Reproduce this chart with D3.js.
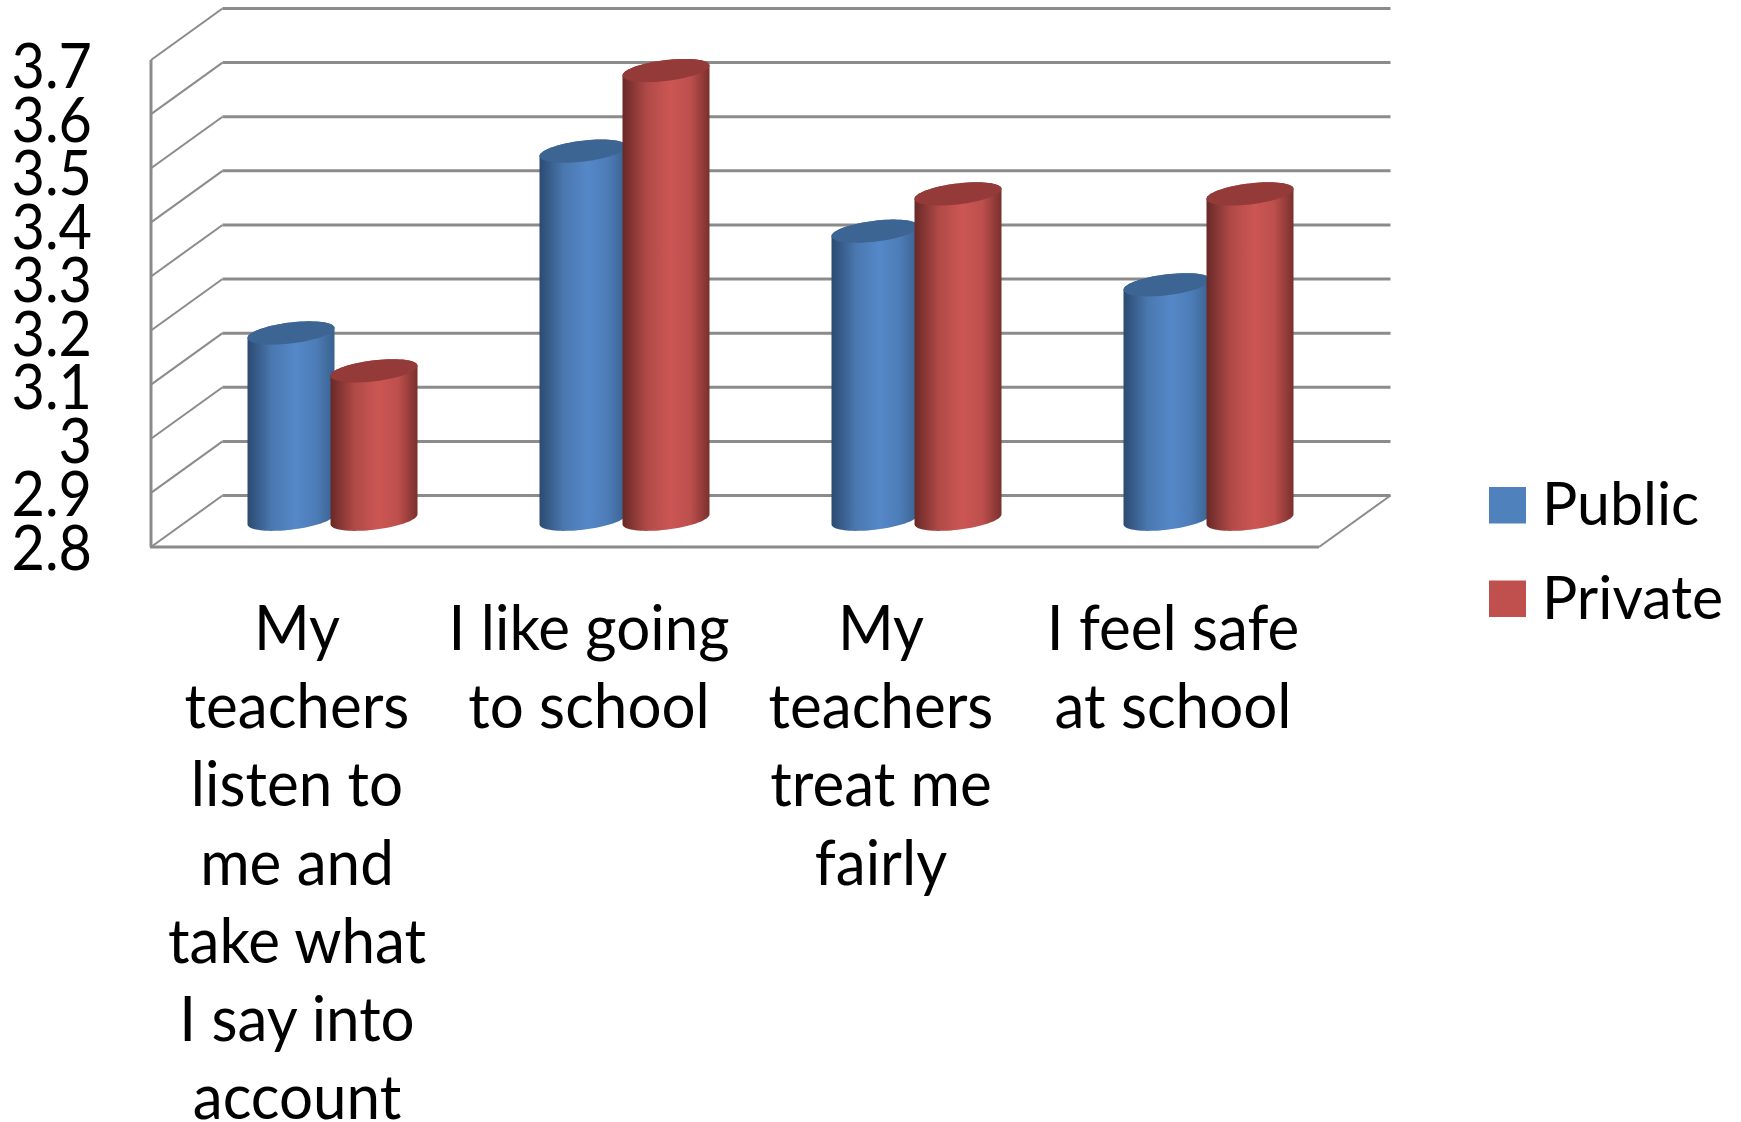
<!DOCTYPE html>
<html><head><meta charset="utf-8">
<script src="https://cdn.jsdelivr.net/npm/d3@7"></script>
<style>html,body{margin:0;background:#fff}svg{display:block}text{font-family:Lato,sans-serif;fill:#000}</style>
</head><body><svg id="c" width="1741" height="1122"></svg>
<script>
const categoryLines=[
 ["My","teachers","listen to","me and","take what","I say into","account"],
 ["I like going","to school"],
 ["My","teachers","treat me","fairly"],
 ["I feel safe","at school"]];
const seriesNames=["Public","Private"];
const publicValues=[3.148,3.484,3.336,3.237];
const privateValues=[3.078,3.633,3.405,3.405];
const ticks=[2.8,2.9,3,3.1,3.2,3.3,3.4,3.5,3.6,3.7];
const fills=[
 {base:"#4f81bd",top:"#3d6594",stops:["#2b4a70","#4a78b0","#5588c8","#4d7db8","#3a618f"]},
 {base:"#c0504d",top:"#943a38",stops:["#682927","#b04a47","#cc5654","#bd4f4c","#7a302e"]}];

const svg=d3.select("#c");
const L=151,R=1319,DX=71.5,DY=-51.5,B=547,T=60;
const x=d3.scaleBand().domain(d3.range(categoryLines.length)).range([L,R]);
const yF=d3.scaleLinear().domain([2.8,3.7]).range([B,T]);
const yB=v=>yF(v)+DY, yM=v=>yF(v)+DY/2;
const grey="#8b8b8b";

const defs=svg.append("defs");
fills.forEach((f,i)=>{
 const g=defs.append("linearGradient").attr("id","g"+i);
 [0,.28,.55,.78,1].forEach((o,j)=>g.append("stop").attr("offset",o).attr("stop-color",f.stops[j]));
});

// walls
const ext=[...ticks];
const grid=svg.append("g");
grid.selectAll("line.b").data(ext).join("line").attr("class","b")
 .attr("x1",L+DX).attr("x2",R+DX).attr("y1",d=>yB(d)).attr("y2",d=>yB(d))
 .attr("stroke",grey).attr("stroke-width",3);
grid.selectAll("line.s").data(ext).join("line").attr("class","s")
 .attr("x1",L).attr("x2",L+DX).attr("y1",d=>yF(d)).attr("y2",d=>yB(d))
 .attr("stroke",grey).attr("stroke-width",2);
grid.append("line").attr("x1",L).attr("x2",L).attr("y1",T).attr("y2",B).attr("stroke",grey).attr("stroke-width",3);
grid.append("line").attr("x1",L-1).attr("x2",R).attr("y1",B).attr("y2",B).attr("stroke",grey).attr("stroke-width",3);
grid.append("line").attr("x1",R).attr("x2",R+DX).attr("y1",B).attr("y2",B+DY).attr("stroke",grey).attr("stroke-width",2);

// cylinders
const rx=43.5, ry=10.5, k=0.115, depthShift=35.5;
const ell=(cx,cy,a)=>[cx+rx*Math.cos(a),cy+ry*Math.sin(a)-k*rx*Math.cos(a)];
const line=d3.line();
function body(cx,yTop,yBot){
 const pts=[];
 const n=40;
 d3.range(n+1).forEach(i=>{const a=Math.PI*i/n;pts.push(ell(cx,yBot,a));}); // bottom: right → left
 d3.range(n+1).forEach(i=>{const a=Math.PI+Math.PI*i/n;pts.push(ell(cx,yTop,a));}); // top back: left → right
 return line(pts)+"Z";
}
function cap(cx,cy){return line(d3.range(81).map(i=>ell(cx,cy,2*Math.PI*i/80)))+"Z";}
const rows=[publicValues,privateValues];
const bars=svg.append("g");
categoryLines.forEach((_,c)=>{
 rows.forEach((vals,s)=>{
  const cx=x(c)+x.bandwidth()/2+depthShift+(s===0?-41.5:41.5);
  const v=vals[c];
  bars.append("path").attr("d",body(cx,yM(v),yM(2.8)-2)).attr("fill",`url(#g${s})`);
  bars.append("path").attr("d",cap(cx,yM(v))).attr("fill",fills[s].top);
 });
});

// y axis labels
const fs=62, sx=0.97;
const yLabelScale=d3.scaleLinear().domain([2.8,3.7]).range([548,66]);
svg.append("g").selectAll("text").data(ticks).join("text")
 .attr("text-anchor","end").attr("font-size",fs)
 .attr("transform",d=>`translate(92,${yLabelScale(d)+22}) scale(0.93,1)`)
 .text(d=>d3.format("")(d));

// category labels
const cat=svg.append("g");
categoryLines.forEach((lines,c)=>{
 cat.selectAll(null).data(lines).join("text")
  .attr("text-anchor","middle").attr("font-size",fs)
  .attr("transform",(d,i)=>`translate(${x(c)+x.bandwidth()/2},${650+i*78.2}) scale(${sx},1)`)
  .text(d=>d);
});

// legend
const leg=svg.append("g").selectAll("g").data(seriesNames).join("g")
 .attr("transform",(d,i)=>`translate(1489,${487+i*93.5})`);
leg.append("rect").attr("width",37).attr("height",36.5).attr("fill",(d,i)=>fills[i].base);
leg.append("text").attr("font-size",fs*0.97).attr("transform",`translate(53,38) scale(0.98,1)`).text(d=>d);
</script></body></html>
